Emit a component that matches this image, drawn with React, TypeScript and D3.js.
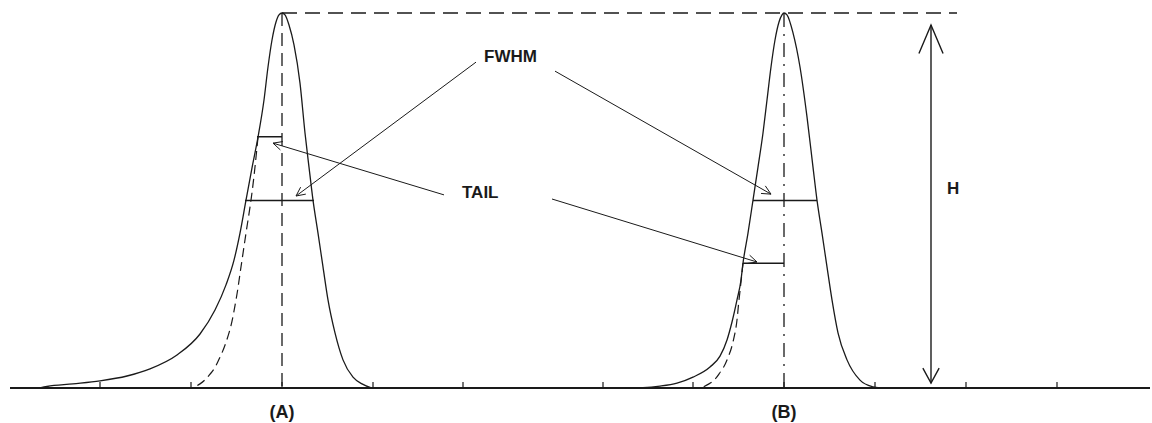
import React from 'react';
import * as d3 from 'd3';

const WIDTH = 1152;
const HEIGHT = 423;

// Retention axis (arbitrary time units) and signal axis (% of peak height)
const xDomain: [number, number] = [0, 11.4];
const yDomain: [number, number] = [0, 100];

const tickValues = [0.9, 1.81, 2.72, 3.63, 4.53, 5.93, 6.83, 7.74, 8.65, 9.56, 10.47];

const peakNames = ['(A)', '(B)'];
const peakCentres = [2.72, 7.74];

// Peak A: measured profile with a long leading tail
const peakA: [number, number][] = [
  [0.3, 0], [0.37, 0.4], [0.63, 1.1], [0.9, 1.9], [1.17, 3.2], [1.4, 5.1], [1.67, 8.8],
  [1.9, 14.4], [2.05, 20.8], [2.16, 27.5], [2.24, 34.1], [2.3, 41.3], [2.36, 50.1],
  [2.42, 58.7], [2.48, 66.9], [2.54, 76.8], [2.58, 85.6], [2.62, 92.8], [2.66, 97.6],
  [2.69, 99.5], [2.72, 100], [2.75, 99.5], [2.79, 96.8], [2.84, 91.5], [2.9, 81.3],
  [2.95, 68.0], [2.99, 58.9], [3.03, 50.1], [3.08, 41.3], [3.13, 32.3], [3.18, 23.5],
  [3.25, 14.7], [3.33, 7.5], [3.43, 2.9], [3.52, 1.1], [3.62, 0],
];

// Peak A: symmetric (ideal) front
const peakAIdeal: [number, number][] = [
  [2.48, 66.9], [2.41, 50.1], [2.36, 41.3], [2.31, 32.3], [2.26, 23.5], [2.19, 14.7],
  [2.11, 8.8], [2.01, 4.0], [1.9, 1.1], [1.83, 0],
];

// Peak B: measured profile with a short leading tail
const peakB: [number, number][] = [
  [6.15, 0], [6.33, 0.1], [6.5, 0.5], [6.67, 1.3], [6.83, 2.9], [7.0, 5.6], [7.1, 8.5],
  [7.17, 12.8], [7.22, 17.6], [7.27, 23.5], [7.31, 28.8], [7.33, 33.3], [7.38, 41.3], [7.43, 50.1],
  [7.48, 58.9], [7.53, 68.0], [7.57, 76.8], [7.61, 85.6], [7.65, 92.8], [7.69, 97.6],
  [7.72, 99.5], [7.74, 100], [7.77, 99.5], [7.83, 94.7], [7.9, 85.6], [7.97, 72.3],
  [8.03, 58.9], [8.07, 50.1], [8.12, 41.3], [8.17, 32.3], [8.22, 23.5], [8.28, 14.7],
  [8.37, 7.5], [8.5, 2.1], [8.63, 0.3], [8.7, 0],
];

// Peak B: symmetric (ideal) front
const peakBIdeal: [number, number][] = [
  [7.33, 33.3], [7.29, 23.5], [7.25, 14.7], [7.19, 8.8], [7.11, 4.5], [6.99, 1.1], [6.91, 0],
];

// Width markers: [level, left, right]
const widthMarkers: [number, number, number][] = [
  [50, 2.35, 3.04], // FWHM of A
  [67, 2.47, 2.72], // tail of A
  [50, 7.43, 8.07], // FWHM of B
  [33.3, 7.33, 7.74], // tail of B
];

// Leader arrows: [fromX, fromY, toX, toY]
const leaders: [number, number, number, number][] = [
  [4.66, 86.9, 2.86, 51.2],
  [4.34, 51.5, 2.63, 65.3],
  [5.45, 84.5, 7.61, 51.7],
  [5.42, 50.4, 7.47, 33.6],
];

const heightArrowX = 9.21;
const heightArrowSpan: [number, number] = [96.8, 1.3];
const topLineEnd = 9.47;

const x = d3.scaleLinear().domain(xDomain).range([10, 1150]);
const y = d3.scaleLinear().domain(yDomain).range([388, 13]);

const line = d3
  .line<[number, number]>()
  .x((d) => x(d[0]))
  .y((d) => y(d[1]))
  .curve(d3.curveMonotoneX);

const lineY = d3
  .line<[number, number]>()
  .x((d) => x(d[0]))
  .y((d) => y(d[1]))
  .curve(d3.curveMonotoneY);

function arrowHead(x1: number, y1: number, x2: number, y2: number, len: number, spread: number) {
  const ang = Math.atan2(y1 - y2, x1 - x2);
  const a = ang + spread;
  const b = ang - spread;
  return `M${x2 + len * Math.cos(a)},${y2 + len * Math.sin(a)}L${x2},${y2}L${x2 + len * Math.cos(b)},${y2 + len * Math.sin(b)}`;
}

const ink = '#1a1a1a';
const font = "'Liberation Sans', Arial, sans-serif";

export default function App() {
  const base = y(0);
  const top = y(100);
  const hx = x(heightArrowX);
  const hTop = y(heightArrowSpan[0]);
  const hBot = y(heightArrowSpan[1]);
  return (
    <svg
      width={WIDTH}
      height={HEIGHT}
      style={{ position: 'absolute', left: 0, top: 0, background: '#fff' }}
    >
      <rect width={WIDTH} height={HEIGHT} fill="#fff" />

      {/* baseline and ticks */}
      <line x1={x(xDomain[0])} x2={x(xDomain[1])} y1={base} y2={base} stroke={ink} strokeWidth={2} />
      {tickValues.map((t) => (
        <line key={t} x1={x(t)} x2={x(t)} y1={base - 6} y2={base + 1} stroke={ink} strokeWidth={1.2} />
      ))}

      {/* peak height reference line */}
      <line
        x1={x(peakCentres[0])}
        x2={x(topLineEnd)}
        y1={top}
        y2={top}
        stroke={ink}
        strokeWidth={1.4}
        strokeDasharray="15 8"
      />

      {/* peak centre lines */}
      <line
        x1={x(peakCentres[0])}
        x2={x(peakCentres[0])}
        y1={top}
        y2={base}
        stroke={ink}
        strokeWidth={1.3}
        strokeDasharray="13 7"
      />
      <line
        x1={x(peakCentres[1])}
        x2={x(peakCentres[1])}
        y1={top}
        y2={base}
        stroke={ink}
        strokeWidth={1.3}
        strokeDasharray="14 7 2 7"
      />

      {/* peaks */}
      <path d={line(peakA) ?? ''} fill="none" stroke={ink} strokeWidth={1.3} />
      <path d={line(peakB) ?? ''} fill="none" stroke={ink} strokeWidth={1.3} />
      <path d={lineY(peakAIdeal) ?? ''} fill="none" stroke={ink} strokeWidth={1.2} strokeDasharray="9 5" />
      <path d={lineY(peakBIdeal) ?? ''} fill="none" stroke={ink} strokeWidth={1.2} strokeDasharray="9 5" />

      {/* width markers */}
      {widthMarkers.map(([lv, l, r], i) => (
        <line key={i} x1={x(l)} x2={x(r)} y1={y(lv)} y2={y(lv)} stroke={ink} strokeWidth={1.5} />
      ))}

      {/* leader arrows */}
      {leaders.map(([fx, fy, tx, ty], i) => (
        <g key={i} stroke={ink} strokeWidth={1} fill="none">
          <line x1={x(fx)} y1={y(fy)} x2={x(tx)} y2={y(ty)} />
          <path d={arrowHead(x(fx), y(fy), x(tx), y(ty), 10, 0.45)} />
        </g>
      ))}

      {/* height arrow */}
      <g stroke={ink} strokeWidth={1.4} fill="none">
        <line x1={hx} x2={hx} y1={hTop} y2={hBot} />
        <path d={arrowHead(hx, hBot, hx, hTop, 31, 0.4)} />
        <path d={arrowHead(hx, hTop, hx, hBot, 17, 0.5)} />
      </g>

      {/* labels */}
      <g fontFamily={font} fontWeight="bold" fill={ink} fontSize={17}>
        <text x={484} y={62}>FWHM</text>
        <text x={462} y={198}>TAIL</text>
        <text x={hx + 16} y={194}>H</text>
        {peakNames.map((n, i) => (
          <text key={n} x={x(peakCentres[i])} y={418} textAnchor="middle" fontSize={18}>
            {n}
          </text>
        ))}
      </g>
    </svg>
  );
}
